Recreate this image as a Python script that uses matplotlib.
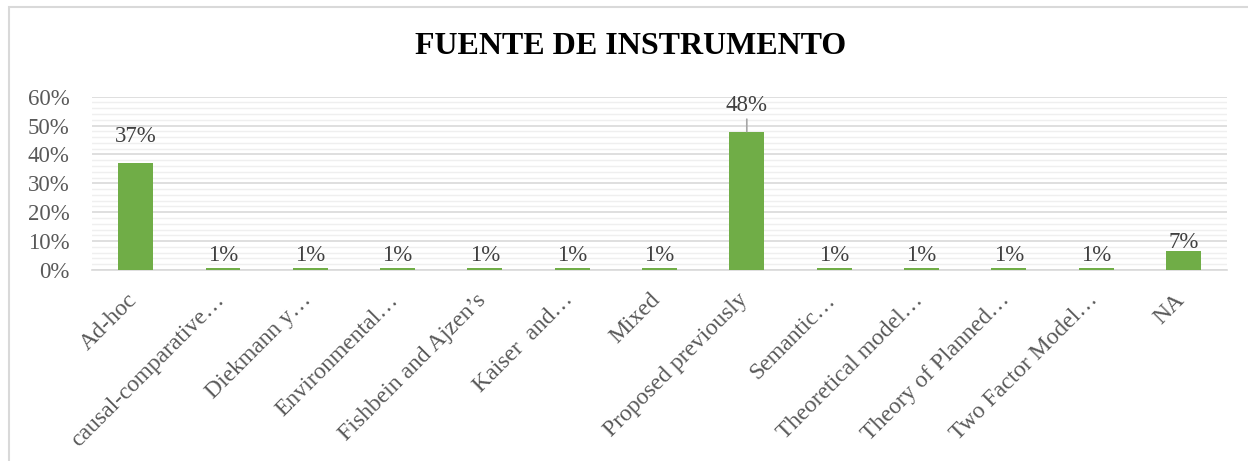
import numpy as np
import matplotlib
matplotlib.use("Agg")
import matplotlib.pyplot as plt
import matplotlib.transforms as mtrans
from matplotlib.patches import Rectangle
from matplotlib.ticker import MultipleLocator, FuncFormatter

# datos (porcentajes)
CATEGORIAS = ["Ad-hoc", "causal-comparative…", "Diekmann y…", "Environmental…",
              "Fishbein and Ajzen’s", "Kaiser  and…", "Mixed", "Proposed previously",
              "Semantic…", "Theoretical model…", "Theory of Planned…",
              "Two Factor Model…", "NA"]
VALORES = [36.9, 0.7, 0.7, 0.7, 0.7, 0.7, 0.7, 47.9, 0.7, 0.7, 0.7, 0.7, 6.6]
TITULO = "FUENTE DE INSTRUMENTO"

# separacion etiqueta-barra en pixeles (las etiquetas estaban movidas a mano)
SEP = [16, 2, 2, 2, 2, 2, 2, 16, 2, 2, 2, 2, -2]

plt.rcParams['font.family'] = ['Liberation Serif', 'DejaVu Serif']
FS = 16.5

W, H = 1248, 461
fig = plt.figure(figsize=(W / 100, H / 100), dpi=100)

# marco gris del grafico
fig.patches.append(Rectangle((9 / W, -0.1), 1.2, 1 - 7 / H + 0.1, transform=fig.transFigure,
                             fill=False, ec='#D9D9D9', lw=1.5, zorder=0))

ax = fig.add_axes([92 / W, 1 - 270 / H, (1227 - 92) / W, (270 - 96.7) / H])

x = np.arange(len(CATEGORIAS))
ax.bar(x, VALORES, width=0.4, color='#70AD47', zorder=3)

ax.set_xlim(-0.5, len(CATEGORIAS) - 0.5)
ax.set_ylim(0, 60)
ax.yaxis.set_major_locator(MultipleLocator(10))
ax.yaxis.set_minor_locator(MultipleLocator(2))
ax.yaxis.set_major_formatter(FuncFormatter(lambda v, p: f"{v:.0f}%"))
ax.grid(axis='y', which='minor', color='#EFEFEF', lw=1, zorder=0)
ax.grid(axis='y', which='major', color='#D9D9D9', lw=1.2, zorder=1)

for s in ['top', 'right', 'left']:
    ax.spines[s].set_visible(False)
ax.spines['bottom'].set_color('#D9D9D9')
ax.spines['bottom'].set_linewidth(1.2)
ax.tick_params(axis='both', which='both', length=0, labelsize=FS, colors='#595959')
ax.tick_params(axis='y', pad=16)

ax.set_xticks(x)
ax.set_xticklabels(CATEGORIAS, rotation=45, ha='right', va='top', fontsize=17)
ax.tick_params(axis='x', pad=14)
desplaza = mtrans.ScaledTranslation(4 / 72, 0, fig.dpi_scale_trans)
for lab in ax.get_xticklabels():
    lab.set_transform(lab.get_transform() + desplaza)

# etiquetas de datos
for i, v in enumerate(VALORES):
    ax.annotate(f"{v:.0f}%", (i, v), xytext=(0, SEP[i] * 0.72), textcoords='offset points',
                ha='center', va='bottom', fontsize=FS, color='#404040', zorder=4)

# linea guia de la etiqueta 48%
i_max = int(np.argmax(VALORES))
ax.annotate("", (i_max, VALORES[i_max]), xytext=(0, 9), textcoords='offset points',
            arrowprops=dict(arrowstyle='-', color='#A6A6A6', lw=1.2, shrinkA=0, shrinkB=0))

fig.text(631 / W, 1 - 46 / H, TITULO, ha='center', va='center', fontsize=23,
         fontweight='bold', color='black')

fig.savefig("out.png", dpi=100, facecolor='white')
